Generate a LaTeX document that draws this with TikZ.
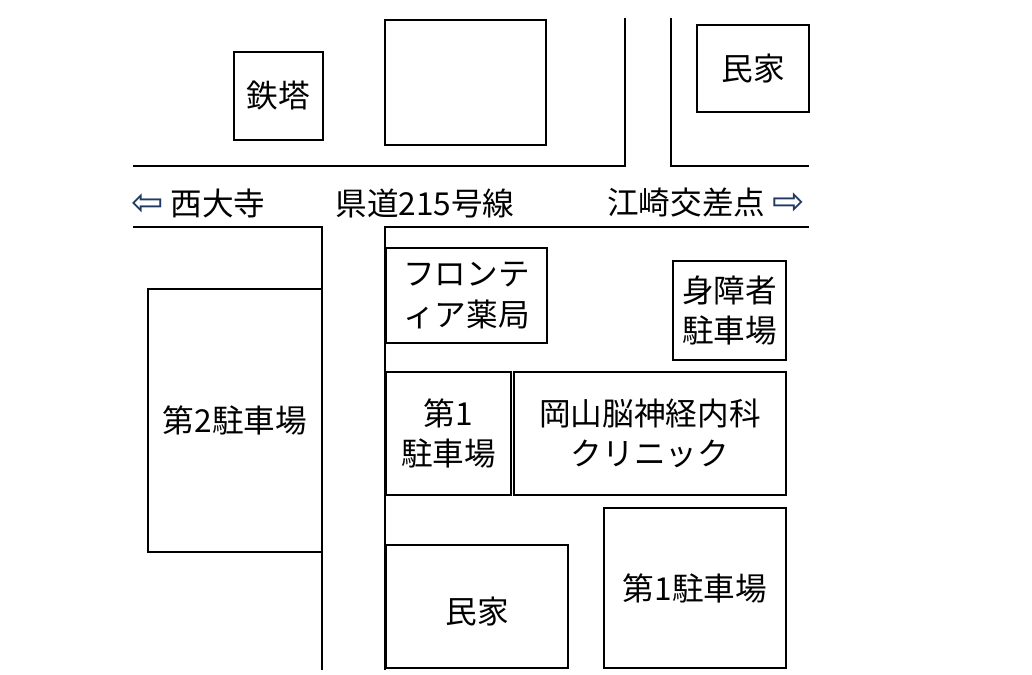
\documentclass[tikz,border=0pt]{standalone}
\usepackage{fontspec}
\newfontfamily\jp{Noto Sans CJK JP}
\newfontfamily\sym{DejaVu Sans}
\definecolor{arrowblue}{HTML}{1F3864}
\begin{document}
\begin{tikzpicture}[x=0.02cm, y=-0.02cm, line width=1.6pt,
    label/.style={font=\jp\fontsize{18}{23}\selectfont}]
    \useasboundingbox (0,0) rectangle (1032,674);

    % Buildings and lots
    \draw (234,52) rectangle (323,140) node[midway, label] {鉄塔};
    \draw (385,20) rectangle (546,145);
    \draw (697,25) rectangle (809,112) node[midway, label] {民家};
    \draw (386,248) rectangle (547,343) node[midway, label, align=center] {フロンテ\\ィア薬局};
    \draw (673,261) rectangle (786,360) node[midway, label, align=center] {身障者\\駐車場};
    \draw (148,289) rectangle (322,552) node[midway, label] {第2駐車場};
    \draw (386,372) rectangle (511,495) node[midway, label, align=center] {第1\\駐車場};
    \draw (514,372) rectangle (786,495) node[midway, label, align=center] {岡山脳神経内科\\クリニック};
    \draw (604,508) rectangle (786,668) node[midway, label] {第1駐車場};
    \draw (386,545) rectangle (568,668) node[midway, label, yshift=-0.1cm] {民家};

    % Roads
    \draw (133,166) -- (625,166) -- (625,18);
    \draw (671,18) -- (671,166) -- (809,166);
    \draw (133,227) -- (322,227) -- (322,670);
    \draw (385,670) -- (385,227) -- (809,227);

    % Road labels
    \node[label, anchor=west] (west) at (124,203) {{\sym\fontsize{22}{23}\selectfont\color{arrowblue}⇦} 西大寺};
    \node[label] (route) at (425,203) {県道215号線};
    \node[label, anchor=east] (east) at (812,203) {江崎交差点 {\sym\fontsize{22}{23}\selectfont\color{arrowblue}⇨}};
\end{tikzpicture}
\end{document}
